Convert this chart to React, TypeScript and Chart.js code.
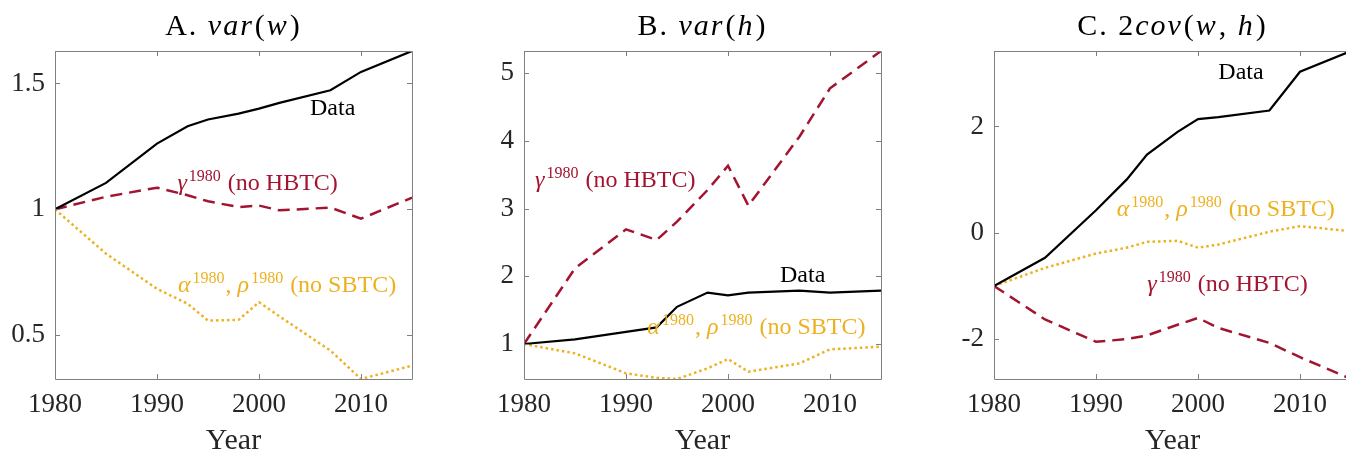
import React, { useEffect, useRef } from 'react';
import { Chart, registerables } from 'chart.js';

Chart.register(...registerables);

// ---------- data ----------
const years = [1980, 1985, 1990, 1993, 1995, 1998, 2000, 2002, 2007, 2010, 2015];
const xTicks = [1980, 1990, 2000, 2010];

const varWData = [1.0, 1.105, 1.261, 1.33, 1.357, 1.38, 1.4, 1.423, 1.473, 1.546, 1.629];
const varWNoHBTC = [1.0, 1.05, 1.086, 1.056, 1.032, 1.009, 1.015, 0.996, 1.007, 0.963, 1.046];
const varWNoSBTC = [1.0, 0.824, 0.684, 0.625, 0.558, 0.561, 0.631, 0.575, 0.439, 0.326, 0.379];
const varWTicks = [0.5, 1, 1.5];

const varHData = [1.0, 1.069, 1.18, 1.246, 1.55, 1.76, 1.72, 1.76, 1.79, 1.76, 1.79];
const varHNoHBTC = [1.0, 2.118, 2.695, 2.537, 2.808, 3.276, 3.635, 3.044, 4.064, 4.778, 5.33];
const varHNoSBTC = [1.0, 0.862, 0.567, 0.5, 0.483, 0.64, 0.778, 0.591, 0.714, 0.921, 0.96];
const varHTicks = [1, 2, 3, 4, 5];

const covData = [-1.0, -0.47, 0.425, 1.0, 1.47, 1.9, 2.14, 2.175, 2.3, 3.03, 3.42];
const covNoHBTC = [-1.0, -1.63, -2.05, -2.0, -1.93, -1.73, -1.6, -1.79, -2.07, -2.34, -2.75];
const covNoSBTC = [-1.0, -0.66, -0.39, -0.28, -0.17, -0.15, -0.28, -0.22, 0.02, 0.125, 0.03];
const covTicks = [-2, 0, 2];

// ---------- styles ----------
const FAMILY = "'Liberation Serif', 'Times New Roman', serif";
const BLACK = '#000000';
const RED = '#A2142F';
const YELLOW = '#EDB120';
const TEXT = '#262626';
const AXIS = '#808080';

type Part = { t: string; i?: boolean; s?: boolean };

const dataLabel: Part[] = [{ t: 'Data' }];
const hbtcLabel: Part[] = [{ t: 'γ', i: true }, { t: '1980', s: true }, { t: ' (no HBTC)' }];
const sbtcLabel: Part[] = [
  { t: 'α', i: true }, { t: '1980', s: true }, { t: ', ' },
  { t: 'ρ', i: true }, { t: '1980', s: true }, { t: ' (no SBTC)' },
];

function drawRich(
  ctx: CanvasRenderingContext2D, parts: Part[], x: number, y: number,
  size: number, supSize: number, color: string, align: 'left' | 'center', spacing = 0,
) {
  const fontFor = (p: Part) => `${p.i ? 'italic ' : ''}${p.s ? supSize : size}px ${FAMILY}`;
  ctx.save();
  (ctx as any).letterSpacing = `${spacing}px`;
  ctx.textBaseline = 'alphabetic';
  ctx.textAlign = 'left';
  ctx.fillStyle = color;
  const widths = parts.map((p) => {
    ctx.font = fontFor(p);
    return ctx.measureText(p.t).width + (p.s ? 2 : 0) + (p.i ? 1 : 0);
  });
  const total = widths.reduce((a, b) => a + b, 0);
  let cx = align === 'center' ? x - total / 2 : x;
  parts.forEach((p, k) => {
    ctx.font = fontFor(p);
    ctx.fillText(p.t, cx + (p.s ? 1 : 0), p.s ? y - size * 0.38 : y);
    cx += widths[k];
  });
  ctx.restore();
}

type Spec = {
  areaLeft: number;
  title: Part[];
  series: { values: number[]; color: string; dash: number[]; width: number }[];
  yTicks: number[];
  labels: { x: number; y: number; parts: Part[]; color: string }[];
};

const AREA_W = 357;
const Y_W = 55;
const RIGHT_PAD = 10;
const TOP = 51;
const X_H = 74;
const H = 453;

function buildChart(canvas: HTMLCanvasElement, spec: Spec) {
  const all = spec.series.flatMap((s) => s.values);
  const yMin = Math.min(...all);
  const yMax = Math.max(...all);

  const framePlugin = {
    id: 'frame',
    afterDatasetsDraw(chart: any) {
      const { ctx, chartArea: a, scales } = chart;
      ctx.save();
      ctx.strokeStyle = AXIS;
      ctx.lineWidth = 1;
      ctx.beginPath();
      ctx.rect(Math.round(a.left) + 0.5, Math.round(a.top) + 0.5, Math.round(a.right - a.left), Math.round(a.bottom - a.top));
      const tl = 5;
      xTicks.forEach((v) => {
        const px = Math.round(scales.x.getPixelForValue(v)) + 0.5;
        ctx.moveTo(px, a.bottom); ctx.lineTo(px, a.bottom - tl);
        ctx.moveTo(px, a.top); ctx.lineTo(px, a.top + tl);
      });
      spec.yTicks.forEach((v) => {
        const py = Math.round(scales.y.getPixelForValue(v)) + 0.5;
        ctx.moveTo(a.left, py); ctx.lineTo(a.left + tl, py);
        ctx.moveTo(a.right, py); ctx.lineTo(a.right - tl, py);
      });
      ctx.stroke();
      ctx.restore();
    },
  };

  const labelPlugin = {
    id: 'labels',
    afterDraw(chart: any) {
      const { ctx, scales, chartArea: a } = chart;
      spec.labels.forEach((l) => {
        drawRich(ctx, l.parts, scales.x.getPixelForValue(l.x), scales.y.getPixelForValue(l.y), 24, 16, l.color, 'left');
      });
      drawRich(ctx, spec.title, (a.left + a.right) / 2, 35, 30, 20, BLACK, 'center', 2);
    },
  };

  return new Chart(canvas, {
    type: 'line',
    data: {
      datasets: spec.series.map((s) => ({
        data: years.map((yr, i) => ({ x: yr, y: s.values[i] })),
        borderColor: s.color,
        borderWidth: s.width,
        borderDash: s.dash,
        borderCapStyle: 'butt',
        pointRadius: 0,
        fill: false,
        tension: 0,
      })),
    },
    options: {
      responsive: false,
      animation: false,
      devicePixelRatio: 1,
      layout: { padding: { top: TOP, right: RIGHT_PAD, bottom: 0, left: 0 } },
      plugins: { legend: { display: false }, tooltip: { enabled: false }, title: { display: false } },
      scales: {
        x: {
          type: 'linear',
          min: 1980,
          max: 2015,
          grid: { display: false, drawTicks: false },
          border: { display: false },
          ticks: {
            font: { family: FAMILY, size: 27 },
            color: TEXT,
            padding: 10,
            maxRotation: 0,
            autoSkip: false,
            callback: (v: any) => String(v),
          },
          afterBuildTicks: (s: any) => { s.ticks = xTicks.map((v) => ({ value: v })); },
          afterFit: (s: any) => { s.height = X_H; },
          title: {
            display: true,
            text: 'Year',
            color: TEXT,
            font: { family: FAMILY, size: 30, lineHeight: 0.8 },
            padding: 0,
          },
        },
        y: {
          type: 'linear',
          min: yMin,
          max: yMax,
          grid: { display: false, drawTicks: false },
          border: { display: false },
          ticks: {
            font: { family: FAMILY, size: 27 },
            color: TEXT,
            padding: 10,
            autoSkip: false,
            callback: (v: any) => String(v),
          },
          afterBuildTicks: (s: any) => { s.ticks = spec.yTicks.map((v) => ({ value: v })); },
          afterFit: (s: any) => { s.width = Y_W; },
        },
      },
    } as any,
    plugins: [framePlugin, labelPlugin],
  });
}

const specs: Spec[] = [
  {
    areaLeft: 55,
    title: [{ t: 'A. ' }, { t: 'var', i: true }, { t: '(' }, { t: 'w', i: true }, { t: ')' }],
    series: [
      { values: varWData, color: BLACK, dash: [], width: 2.2 },
      { values: varWNoHBTC, color: RED, dash: [12, 7], width: 2.5 },
      { values: varWNoSBTC, color: YELLOW, dash: [2.5, 3], width: 2.5 },
    ],
    yTicks: varWTicks,
    labels: [
      { x: 2005.0, y: 1.374, parts: dataLabel, color: BLACK },
      { x: 1992.0, y: 1.076, parts: hbtcLabel, color: RED },
      { x: 1992.06, y: 0.671, parts: sbtcLabel, color: YELLOW },
    ],
  },
  {
    areaLeft: 524,
    title: [{ t: 'B. ' }, { t: 'var', i: true }, { t: '(' }, { t: 'h', i: true }, { t: ')' }],
    series: [
      { values: varHData, color: BLACK, dash: [], width: 2.2 },
      { values: varHNoHBTC, color: RED, dash: [12, 7], width: 2.5 },
      { values: varHNoSBTC, color: YELLOW, dash: [2.5, 3], width: 2.5 },
    ],
    yTicks: varHTicks,
    labels: [
      { x: 2005.1, y: 1.92, parts: dataLabel, color: BLACK },
      { x: 1981.08, y: 3.315, parts: hbtcLabel, color: RED },
      { x: 1992.09, y: 1.143, parts: sbtcLabel, color: YELLOW },
    ],
  },
  {
    areaLeft: 994,
    title: [
      { t: 'C. 2' }, { t: 'cov', i: true }, { t: '(' }, { t: 'w', i: true },
      { t: ', ' }, { t: 'h', i: true }, { t: ')' },
    ],
    series: [
      { values: covData, color: BLACK, dash: [], width: 2.2 },
      { values: covNoHBTC, color: RED, dash: [12, 7], width: 2.5 },
      { values: covNoSBTC, color: YELLOW, dash: [2.5, 3], width: 2.5 },
    ],
    yTicks: covTicks,
    labels: [
      { x: 2001.99, y: 2.895, parts: dataLabel, color: BLACK },
      { x: 1995.03, y: -1.098, parts: hbtcLabel, color: RED },
      { x: 1992.03, y: 0.312, parts: sbtcLabel, color: YELLOW },
    ],
  },
];

function Panel({ spec }: { spec: Spec }) {
  const ref = useRef<HTMLCanvasElement | null>(null);
  useEffect(() => {
    if (!ref.current) return;
    const chart = buildChart(ref.current, spec);
    return () => chart.destroy();
  }, [spec]);
  const w = Y_W + AREA_W + RIGHT_PAD;
  return (
    <canvas
      ref={ref}
      width={w}
      height={H}
      style={{ position: 'absolute', left: spec.areaLeft - Y_W, top: 0, width: w, height: H }}
    />
  );
}

export default function App() {
  return (
    <div
      style={{
        position: 'fixed', left: 0, top: 0, width: 1346, height: 453,
        overflow: 'hidden', background: '#ffffff',
      }}
    >
      {specs.map((s, i) => <Panel key={i} spec={s} />)}
    </div>
  );
}
